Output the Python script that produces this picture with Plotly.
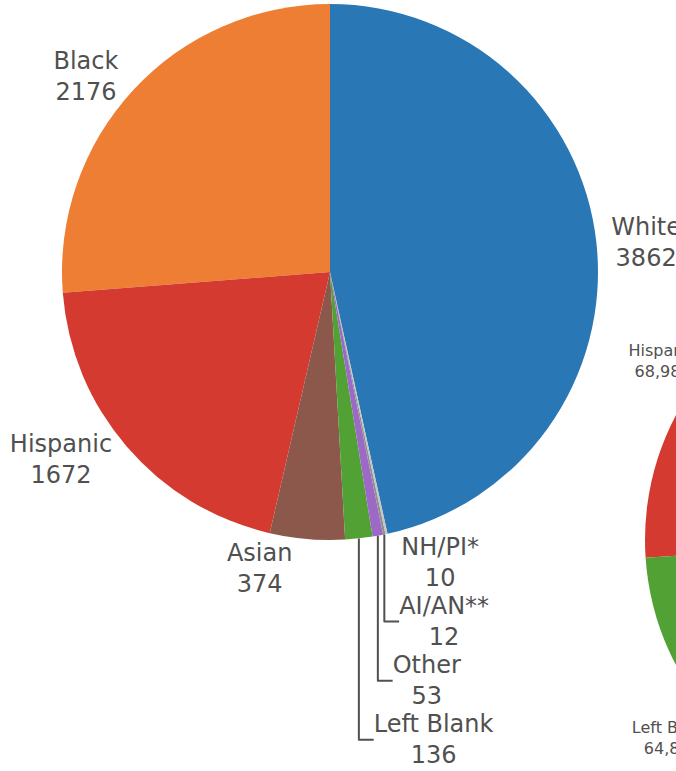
import plotly.graph_objects as go

# left pie (fully visible), slices drawn in this order
labels_left = ["White", "Black", "Hispanic", "Asian", "Left Blank", "Other", "AI/AN**", "NH/PI*"]
values_left = [3862, 2176, 1672, 374, 136, 53, 12, 10]

# right pie: only its left edge shows in the picture, hidden slices are estimates
labels_right = ["White", "Black", "Hispanic", "Left Blank", "Asian", "Other", "AI/AN**", "NH/PI*"]
values_right = [121500, 5500, 68985, 64870, 20300, 3200, 1000, 500]

color_of = {
    "White": "#2a77b5", "Black": "#ee7e33", "Hispanic": "#d53a30", "Asian": "#8b584b",
    "Left Blank": "#52a135", "Other": "#9c6ac6", "AI/AN**": "#8f8f8f", "NH/PI*": "#c4c4c4",
}

# the picture is a crop of a wider/taller figure
W, H = 1300, 900
VIEW_W, VIEW_H = 676, 771


def dom(x0, x1, top, bottom):
    return dict(x=[x0 / W, x1 / W], y=[1 - bottom / H, 1 - top / H])


def pie(labels, values, size, domain):
    return go.Pie(
        labels=labels, values=values, sort=False, direction="counterclockwise",
        marker=dict(colors=[color_of[l] for l in labels]),
        textinfo="label+value", textposition="outside",
        textfont=dict(size=size, family="Verdana, DejaVu Sans", color="#505050"),
        domain=domain, showlegend=False, automargin=False,
    )


fig = go.Figure()
fig.add_trace(pie(labels_left, values_left, 24, dom(62, 598, 4, 540)))
fig.add_trace(pie(labels_right, values_right, 16, dom(645, 1181, 272, 808)))

fig.update_layout(
    width=W, height=H,
    margin=dict(l=0, r=0, t=0, b=0),
    paper_bgcolor="white", plot_bgcolor="white",
    font=dict(family="Verdana, DejaVu Sans", color="#505050"),
)

# clip the page to the visible part of the figure
post = (
    "var gd=document.getElementById('{plot_id}');"
    "document.body.style.margin='0';"
    "gd.parentElement.style.width='%dpx';"
    "gd.parentElement.style.height='%dpx';"
    "gd.parentElement.style.overflow='hidden';" % (VIEW_W, VIEW_H)
)
fig.write_html("out.html", post_script=post)
